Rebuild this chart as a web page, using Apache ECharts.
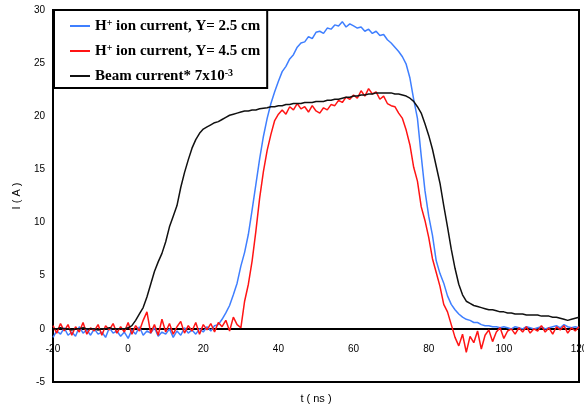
<!DOCTYPE html>
<html>
<head>
<meta charset="utf-8">
<script src="https://cdn.jsdelivr.net/npm/echarts@6/dist/echarts.min.js"></script>
<style>
  html, body { margin: 0; padding: 0; background: #fff; }
  #chart { width: 584px; height: 411px; }
</style>
</head>
<body>
<div id="chart"></div>
<script>
// time axis starts at -20 ns, one sample per ns
const tStart = -20;

// H+ ion current, Y = 2.5 cm
const blueValues = [
  -0.8, -0.2, -0.5, 0.1, -0.6, -0.3, -0.7, 0.2, -0.4, -0.1,
  -0.6, 0.0, -0.5, -0.3, -0.8, 0.1, -0.4, -0.2, -0.7, -0.3,
  -0.9, -0.1, -0.5, 0.2, -0.6, -0.2, -0.4, 0.1, -0.7, -0.3,
  -0.5, 0.0, -0.8, -0.2, -0.6, 0.1, -0.4, -0.1, -0.5, 0.0,
  -0.3, 0.2, -0.2, 0.3, 0.4, 0.9, 1.5, 2.2, 3.2, 4.3,
  5.9, 7.2, 8.9, 11.2, 13.6, 16.0, 18.1, 19.8, 21.2, 22.3,
  23.3, 24.2, 24.7, 25.4, 25.8, 26.5, 26.9, 27.0, 27.5, 27.3,
  27.9, 28.0, 27.8, 28.3, 28.2, 28.6, 28.5, 28.9, 28.4, 28.7,
  28.5, 28.3, 28.4, 28.0, 28.2, 27.8, 28.0, 27.6, 27.7, 27.2,
  26.9, 26.5, 26.1, 25.6, 24.9, 23.6, 21.6, 19.8, 16.3, 13.0,
  10.6, 8.8, 6.4, 5.2, 4.3, 3.1, 2.3, 1.8, 1.4, 1.1,
  0.9, 0.8, 0.6, 0.6, 0.4, 0.3, 0.3, 0.2, 0.2, 0.1,
  0.2, 0.1, 0.0, 0.2, 0.1, 0.0, 0.2, 0.1, 0.0, 0.1,
  0.2, 0.0, 0.1, 0.2, 0.3, 0.1, 0.4, 0.2, 0.1, 0.2,
  0.1
];

// H+ ion current, Y = 4.5 cm
const redValues = [
  0.3, -0.4, 0.5, -0.2, 0.4, -0.6, 0.2, -0.3, 0.6, -0.5,
  0.1, -0.2, 0.4, -0.6, 0.3, -0.1, 0.5, -0.4, 0.2, -0.3,
  0.6, -0.5, 0.3, -0.2, 0.8, 1.6, -0.4, 0.4, -0.6, 0.9,
  -0.3, 0.5, -0.5, 0.2, 0.7, -0.4, 0.3, -0.2, 0.6, -0.5,
  0.4, -0.1, 0.5, -0.3, 0.6, 0.2, 0.8, -0.2, 1.1, 0.4,
  0.1, 2.6, 4.2, 6.4, 9.2, 12.3, 14.8, 16.8, 18.3, 19.6,
  20.2, 20.6, 20.2, 20.9, 20.6, 21.2, 20.7, 20.9, 20.4, 21.0,
  20.5, 20.3, 20.8, 20.6, 21.1, 21.0, 21.5, 21.3, 21.8, 21.6,
  22.0, 21.7, 22.4, 21.9, 22.6, 22.1, 22.3, 21.6, 21.9, 21.2,
  21.0, 20.9, 20.3, 19.8, 18.7, 17.3, 15.2, 13.9, 11.5, 10.2,
  8.6, 6.6, 5.3, 4.0, 2.3, 1.6, 0.4, -0.8, -1.6, -0.5,
  -2.2, -0.7, -1.3, -0.2, -1.9, -0.6, -0.1, -1.2, -0.3, 0.1,
  -0.9, -0.2, 0.0, -0.5, 0.1, -0.3, 0.2, -0.4, 0.0, -0.2,
  0.3, -0.3, 0.1, -0.5, 0.2, -0.1, 0.3, -0.4, 0.1, -0.2,
  0.2
];

// Beam current * 7x10^-3
const beamValues = [
  0.0, 0.0, 0.1, 0.0, 0.0, -0.1, 0.0, 0.0, 0.1, 0.0,
  0.0, 0.0, -0.1, 0.0, 0.0, 0.1, 0.0, 0.0, 0.0, 0.0,
  0.1, 0.3, 0.8, 1.4, 2.0, 3.0, 4.2, 5.4, 6.3, 7.1,
  8.2, 9.6, 10.6, 11.6, 13.3, 14.7, 15.9, 17.0, 17.8, 18.4,
  18.8, 19.0, 19.2, 19.4, 19.5, 19.7, 19.9, 20.1, 20.2, 20.3,
  20.4, 20.5, 20.5, 20.6, 20.6, 20.7, 20.75, 20.8, 20.9, 20.9,
  21.0, 21.0, 21.1, 21.1, 21.2, 21.2, 21.2, 21.3, 21.3, 21.3,
  21.4, 21.4, 21.4, 21.5, 21.5, 21.6, 21.6, 21.7, 21.8, 21.8,
  21.9, 21.9, 22.0, 22.0, 22.1, 22.1, 22.2, 22.2, 22.2, 22.2,
  22.2, 22.1, 22.1, 22.0, 21.9, 21.7, 21.4, 20.9, 20.3, 19.3,
  18.2, 16.9, 15.3, 13.7, 11.6, 9.6, 7.5, 5.7, 4.2, 3.2,
  2.6, 2.4, 2.2, 2.1, 2.0, 1.9, 1.8, 1.8, 1.7, 1.6,
  1.6, 1.5, 1.5, 1.4, 1.4, 1.4, 1.3, 1.3, 1.3, 1.3,
  1.2, 1.2, 1.2, 1.1, 1.1, 1.0, 0.9, 0.8, 0.9, 1.0,
  1.1
];

const seriesNames = ['blue', 'red', 'beam'];
const legendLabels = {
  blue: 'H{sup|+} ion current, Y= 2.5 cm',
  red: 'H{sup|+} ion current, Y= 4.5 cm',
  beam: 'Beam current* 7x10{sup|-3}'
};
const seriesColors = ['#3f7fff', '#ff1414', '#111111'];

const toPairs = values => values.map((v, i) => [tStart + i, v]);

const gridTop = 10;
const gridBottom = 29;
const yMin = -5;
const yMax = 30;
// distance from frame bottom up to the I = 0 line
const zeroOffset = (411 - gridTop - gridBottom) * (0 - yMin) / (yMax - yMin);

const chart = echarts.init(document.getElementById('chart'));

chart.setOption({
  animation: false,
  backgroundColor: '#fff',
  grid: {
    left: 53,
    right: 5,
    top: gridTop,
    bottom: gridBottom,
    outerBoundsMode: 'none',
    containLabel: false,
    show: true,
    borderColor: '#000',
    borderWidth: 2
  },
  legend: {
    orient: 'vertical',
    left: 54,
    top: 10,
    data: seriesNames,
    icon: 'rect',
    itemWidth: 20,
    itemHeight: 2,
    itemGap: 9,
    padding: [8, 7, 4, 16],
    borderColor: '#000',
    borderWidth: 2,
    backgroundColor: '#fff',
    formatter: name => legendLabels[name],
    textStyle: {
      fontFamily: 'Liberation Serif',
      fontWeight: 'bold',
      fontSize: 15,
      color: '#000',
      lineHeight: 16,
      rich: {
        sup: {
          fontFamily: 'Liberation Serif',
          fontWeight: 'bold',
          fontSize: 10,
          lineHeight: 16,
          verticalAlign: 'top',
          color: '#000'
        }
      }
    }
  },
  xAxis: {
    type: 'value',
    min: -20,
    max: 120,
    interval: 20,
    offset: -zeroOffset,
    name: 't ( ns )',
    nameLocation: 'middle',
    nameGap: 65,
    nameTextStyle: { fontFamily: 'Liberation Sans', fontSize: 11, color: '#000' },
    axisLine: { onZero: false, lineStyle: { color: '#000', width: 2 } },
    axisTick: { show: false },
    splitLine: { show: false },
    axisLabel: { fontFamily: 'Liberation Sans', fontSize: 10, color: '#000', margin: 15 }
  },
  yAxis: {
    type: 'value',
    min: yMin,
    max: yMax,
    interval: 5,
    name: 'I ( A )',
    nameLocation: 'middle',
    nameGap: 31,
    nameMoveOverlap: false,
    nameRotate: 90,
    nameTextStyle: { fontFamily: 'Liberation Sans', fontSize: 11, color: '#000' },
    axisLine: { show: true, onZero: false, lineStyle: { color: '#000', width: 2 } },
    axisTick: { show: false },
    splitLine: { show: false },
    axisLabel: { fontFamily: 'Liberation Sans', fontSize: 10, color: '#000', margin: 8 }
  },
  series: [blueValues, redValues, beamValues].map((values, i) => ({
    name: seriesNames[i],
    type: 'line',
    data: toPairs(values),
    showSymbol: false,
    symbol: 'none',
    color: seriesColors[i],
    lineStyle: { width: 1.5, color: seriesColors[i] }
  }))
});
</script>
</body>
</html>
